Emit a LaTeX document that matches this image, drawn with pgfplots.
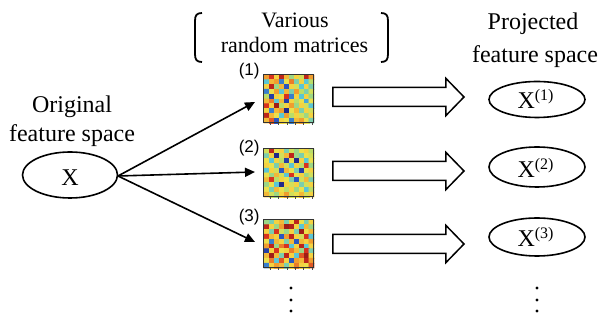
\documentclass[border=0pt]{standalone}
\usepackage{pgfplots}
\pgfplotsset{compat=1.18}
\usepackage{fontspec}
\setmainfont{Liberation Serif}
\newfontfamily\sfarial{Liberation Sans}
\usetikzlibrary{arrows.meta}
\pgfplotsset{colormap={softjet}{rgb255=(30,20,110) rgb255=(40,80,190) rgb255=(80,195,225) rgb255=(175,220,110) rgb255=(245,225,70) rgb255=(240,150,45) rgb255=(215,45,30) rgb255=(130,20,20)}}
\begin{document}
\begin{tikzpicture}
\begin{axis}[
  width=301pt, height=158pt, scale only axis,
  xmin=0, xmax=602, ymin=0, ymax=316, y dir=reverse,
  hide axis, clip=false,
  colormap name=softjet, point meta min=0, point meta max=1,
]
% ---- matrix 1 ----
\addplot[matrix plot*, mesh/cols=10, point meta=explicit]
 table[header=false, row sep=\\, meta index=0,
   x expr={266.5+5*mod(\coordindex,10)}, y expr={77.4+4.8*floor(\coordindex/10)}] {
0.70\\0.85\\0.60\\0.90\\0.65\\0.40\\0.60\\0.50\\0.90\\0.70\\
0.30\\0.65\\0.70\\0.20\\0.55\\0.75\\0.35\\0.60\\0.30\\0.45\\
0.60\\0.90\\0.40\\0.65\\0.15\\0.60\\0.50\\0.30\\0.60\\0.35\\
0.20\\0.55\\0.70\\0.30\\0.65\\0.35\\0.70\\0.45\\0.35\\0.50\\
0.45\\0.10\\0.60\\0.55\\0.85\\0.20\\0.60\\0.30\\0.60\\0.40\\
0.65\\0.75\\0.30\\0.65\\0.10\\0.60\\0.45\\0.55\\0.25\\0.55\\
0.85\\0.60\\0.95\\0.45\\0.60\\0.70\\0.40\\0.60\\0.50\\0.30\\
0.60\\0.20\\0.65\\0.70\\0.05\\0.55\\0.65\\0.35\\0.60\\0.50\\
0.90\\0.65\\0.55\\0.30\\0.70\\0.45\\0.60\\0.50\\0.40\\0.60\\
0.65\\0.80\\0.15\\0.60\\0.55\\0.20\\0.65\\0.70\\0.55\\0.35\\
};
% ---- matrix 2 ----
\addplot[matrix plot*, mesh/cols=10, point meta=explicit]
 table[header=false, row sep=\\, meta index=0,
   x expr={266.5+5*mod(\coordindex,10)}, y expr={151.4+4.8*floor(\coordindex/10)}] {
0.50\\0.90\\0.55\\0.60\\0.35\\0.50\\0.40\\0.55\\0.60\\0.45\\
0.35\\0.60\\0.05\\0.50\\0.65\\0.90\\0.40\\0.35\\0.55\\0.50\\
0.55\\0.30\\0.60\\0.45\\0.10\\0.55\\0.05\\0.60\\0.30\\0.55\\
0.60\\0.55\\0.35\\0.65\\0.50\\0.30\\0.60\\0.45\\0.85\\0.40\\
0.30\\0.60\\0.50\\0.15\\0.65\\0.55\\0.35\\0.10\\0.55\\0.60\\
0.55\\0.40\\0.65\\0.50\\0.30\\0.85\\0.55\\0.60\\0.40\\0.50\\
0.65\\0.85\\0.45\\0.60\\0.55\\0.35\\0.15\\0.50\\0.65\\0.35\\
0.40\\0.55\\0.30\\0.05\\0.60\\0.50\\0.60\\0.35\\0.50\\0.60\\
0.55\\0.35\\0.65\\0.55\\0.45\\0.60\\0.40\\0.55\\0.30\\0.45\\
0.65\\0.50\\0.40\\0.60\\0.70\\0.50\\0.55\\0.65\\0.50\\0.60\\
};
% ---- matrix 3 ----
\addplot[matrix plot*, mesh/cols=10, point meta=explicit]
 table[header=false, row sep=\\, meta index=0,
   x expr={266.5+5*mod(\coordindex,10)}, y expr={222.4+4.8*floor(\coordindex/10)}] {
0.40\\0.35\\0.60\\0.65\\0.35\\0.60\\0.90\\0.55\\0.35\\0.60\\
0.90\\0.60\\0.40\\0.70\\0.95\\0.92\\0.60\\0.30\\0.65\\0.40\\
0.60\\0.35\\0.85\\0.50\\0.40\\0.60\\0.35\\0.95\\0.55\\0.65\\
0.85\\0.65\\0.60\\0.15\\0.70\\0.90\\0.60\\0.50\\0.85\\0.30\\
0.55\\0.20\\0.65\\0.60\\0.35\\0.65\\0.15\\0.65\\0.60\\0.70\\
0.70\\0.90\\0.40\\0.75\\0.85\\0.30\\0.60\\0.90\\0.30\\0.60\\
0.10\\0.60\\0.85\\0.55\\0.60\\0.75\\0.65\\0.40\\0.85\\0.35\\
0.65\\0.95\\0.65\\0.35\\0.90\\0.60\\0.30\\0.80\\0.95\\0.60\\
0.55\\0.75\\0.30\\0.80\\0.60\\0.15\\0.70\\0.65\\0.90\\0.70\\
0.20\\0.60\\0.70\\0.65\\0.35\\0.60\\0.75\\0.60\\0.55\\0.80\\
};
% frames and ticks of the matrices
\pgfplotsinvokeforeach{75,149,220}{
  \draw[black!80, line width=0.5pt] (264,#1) rectangle (314,#1+48);
  \draw[black!70, line width=0.3pt]
    (270,#1+48) -- (270,#1+50) (278,#1+48) -- (278,#1+50)
    (287,#1+48) -- (287,#1+50) (295,#1+48) -- (295,#1+50)
    (303,#1+48) -- (303,#1+50) (312,#1+48) -- (312,#1+50);
}
% labels (1)(2)(3)
\node[anchor=east, inner sep=0pt, font=\sfarial\fontsize{8.5}{10}\selectfont] at (260,71) {(1)};
\node[anchor=east, inner sep=0pt, font=\sfarial\fontsize{8.5}{10}\selectfont] at (260,148) {(2)};
\node[anchor=east, inner sep=0pt, font=\sfarial\fontsize{8.5}{10}\selectfont] at (260,217) {(3)};
% top text and brackets
\node[anchor=base, inner sep=0pt, font=\fontsize{11}{13}\selectfont] at (295,28) {Various};
\node[anchor=base, inner sep=0pt, font=\fontsize{11}{13}\selectfont] at (294.5,53) {random matrices};
\draw[line width=0.9pt] (202,13) .. controls (196.5,13) and (195,15.5) .. (195,21) -- (195,54) .. controls (195,59.5) and (196.5,62) .. (202,62);
\draw[line width=0.9pt] (381,13) .. controls (386.5,13) and (388,15.5) .. (388,21) -- (388,54) .. controls (388,59.5) and (386.5,62) .. (381,62);
% left text
\node[anchor=base, inner sep=0pt, font=\fontsize{12}{14}\selectfont] at (72,113) {Original};
\node[anchor=base, inner sep=0pt, font=\fontsize{12}{14}\selectfont] at (72,142) {feature space};
% right text
\node[anchor=base, inner sep=0pt, font=\fontsize{12}{14}\selectfont] at (533,30) {Projected};
\node[anchor=base, inner sep=0pt, font=\fontsize{12}{14}\selectfont] at (535,63) {feature space};
% left ellipse
\draw[line width=0.8pt] (70,175) ellipse [x radius=23.75pt, y radius=11.5pt];
\node[inner sep=0pt, font=\fontsize{12}{14}\selectfont] at (70,178) {X};
% arrows from X
\pgfplotsinvokeforeach{102,172,242}{
  \draw[line width=0.8pt, -{Triangle[length=5pt, width=4.5pt]}] (118,176) -- (255,#1);
}
% hollow arrows
\pgfplotsinvokeforeach{97,171,244}{
  \draw[line width=0.75pt, fill=white] (333,#1-9.5) -- (446,#1-9.5) -- (446,#1-18.5) -- (464,#1) -- (446,#1+18.5) -- (446,#1+9.5) -- (333,#1+9.5) -- cycle;
}
% right ellipses
\draw[line width=0.8pt] (537,99.5) ellipse [x radius=24pt, y radius=9pt];
\draw[line width=0.8pt] (537,167) ellipse [x radius=24pt, y radius=10pt];
\draw[line width=0.8pt] (537,237) ellipse [x radius=24pt, y radius=9.5pt];
\node[inner sep=0pt, font=\fontsize{12}{14}\selectfont] at (536,99) {X\textsuperscript{(1)}};
\node[inner sep=0pt, font=\fontsize{12}{14}\selectfont] at (536,168) {X\textsuperscript{(2)}};
\node[inner sep=0pt, font=\fontsize{12}{14}\selectfont] at (536,237) {X\textsuperscript{(3)}};
% vertical dots
\pgfplotsinvokeforeach{288,300,311}{
  \fill (291,#1) circle[radius=0.8pt];
  \fill (537,#1) circle[radius=0.8pt];
}
\end{axis}
\pgfresetboundingbox
\path[use as bounding box] (0,0) rectangle (301pt,158pt);
\end{tikzpicture}
\end{document}
